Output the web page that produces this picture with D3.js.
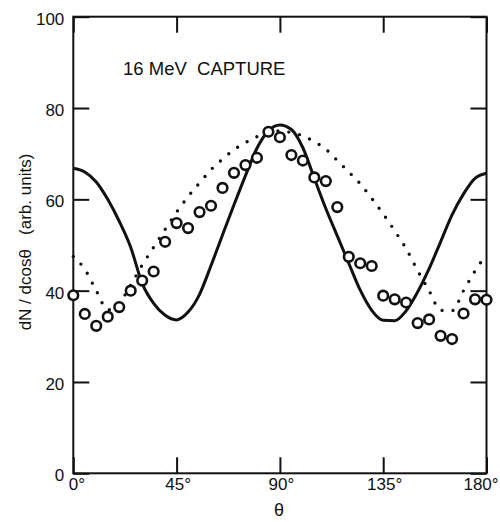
<!DOCTYPE html>
<html>
<head>
<meta charset="utf-8">
<script src="https://cdn.jsdelivr.net/npm/d3@7"></script>
<style>
  body { margin: 0; background: #fff; }
  text { font-family: "Liberation Sans", Arial, Helvetica, sans-serif; fill: #111; }
</style>
</head>
<body>
<svg width="500" height="522"></svg>
<script>
// angles in degrees, 5 degree steps
const angles = d3.range(0, 181, 5);

// measured points (open circles)
const measured = [39.0, 34.9, 32.3, 34.3, 36.4, 40.0, 42.2, 44.2, 50.7, 54.8,
  53.7, 57.2, 58.6, 62.5, 65.8, 67.5, 69.1, 74.8, 73.6, 69.7,
  68.5, 64.8, 64.0, 58.3, 47.4, 46.0, 45.4, 38.9, 38.1, 37.4,
  32.9, 33.7, 30.1, 29.4, 35.0, 38.1, 38.0];

// solid curve
const solidCurve = [66.8, 66.0, 63.8, 60.0, 55.2, 49.5, 41.6, 37.2, 34.6, 33.6,
  35.3, 39.2, 45.5, 52.2, 58.8, 65.2, 71.2, 75.0, 76.3, 75.3,
  71.3, 64.6, 58.0, 52.0, 46.0, 40.1, 35.7, 33.5, 33.4, 35.6,
  39.7, 44.8, 50.7, 56.6, 61.2, 64.6, 65.7];

// dotted curve
const dottedCurve = [47.5, 44.7, 40.0, 35.8, 37.3, 41.2, 45.6, 49.5, 53.4, 57.2,
  60.6, 63.6, 66.5, 68.8, 70.9, 72.4, 73.7, 74.7, 75.0, 74.6,
  73.9, 72.6, 71.0, 68.5, 66.0, 63.4, 60.2, 56.8, 53.1, 49.2,
  44.4, 40.0, 35.7, 35.6, 40.0, 44.3, 48.0];

const xTicks = [0, 45, 90, 135, 180];
const yTicks = [0, 20, 40, 60, 80, 100];

const svg = d3.select('svg');
const width  = +svg.attr('width');
const height = +svg.attr('height');
const margin = { top: 16.7, bottom: 48.7, left: 73.3, right: 13.5 };
const innerWidth = width - margin.left - margin.right;
const innerHeight = height - margin.top - margin.bottom;

const g = svg.append('g')
  .attr('transform', `translate(${margin.left},${margin.top})`);

const xScale = d3.scaleLinear().domain([0, 180]).range([0, innerWidth]);
const yScale = d3.scaleLinear().domain([0, 100]).range([innerHeight, 0]);

const tickLen = 16;

// axes: ticks point inward, labels outside (left & bottom only)
const styleAxis = sel => {
  sel.select('.domain').remove();
  sel.selectAll('.tick line').attr('stroke', '#111').attr('stroke-width', 2);
  sel.selectAll('.tick text').style('font-size', '17px').attr('fill', '#111');
};

const xAxisG = g.append('g')
  .attr('transform', `translate(0,${innerHeight})`)
  .call(d3.axisBottom(xScale).tickValues(xTicks).tickSize(-tickLen).tickPadding(5)
    .tickFormat(d => d + '°'))
  .call(styleAxis);
// nudge end labels the way the original sits
xAxisG.selectAll('.tick text')
  .attr('dx', d => d === 0 ? 3 : d === 180 ? -6 : 1);

g.append('g')
  .call(d3.axisTop(xScale).tickValues(xTicks).tickSize(-tickLen))
  .call(styleAxis)
  .selectAll('.tick text').remove();

g.append('g')
  .call(d3.axisLeft(yScale).tickValues(yTicks).tickSize(-tickLen).tickPadding(9))
  .call(styleAxis)
  .selectAll('.tick text').attr('dy', '0.45em');

g.append('g')
  .attr('transform', `translate(${innerWidth},0)`)
  .call(d3.axisRight(yScale).tickValues(yTicks).tickSize(-tickLen))
  .call(styleAxis)
  .selectAll('.tick text').remove();

// frame
g.append('rect')
  .attr('width', innerWidth)
  .attr('height', innerHeight)
  .attr('fill', 'none')
  .attr('stroke', '#111')
  .attr('stroke-width', 2);

// curves
const line = d3.line()
  .x((d, i) => xScale(angles[i]))
  .y(d => yScale(d))
  .curve(d3.curveMonotoneX);

g.append('path')
  .datum(dottedCurve)
  .attr('d', line)
  .attr('fill', 'none')
  .attr('stroke', '#111')
  .attr('stroke-width', 3.4)
  .attr('stroke-linecap', 'round')
  .attr('stroke-dasharray', '0 11');

g.append('path')
  .datum(solidCurve)
  .attr('d', line)
  .attr('fill', 'none')
  .attr('stroke', '#111')
  .attr('stroke-width', 3);

// data points
g.selectAll('circle')
  .data(measured).enter()
  .append('circle')
    .attr('cx', (d, i) => xScale(angles[i]))
    .attr('cy', d => yScale(d))
    .attr('r', 4.8)
    .attr('fill', '#fff')
    .attr('stroke', '#111')
    .attr('stroke-width', 2.6);

// labels
svg.append('text')
  .attr('x', 123)
  .attr('y', 75)
  .style('font-size', '18.5px')
  .style('white-space', 'pre')
  .text('16 MeV  CAPTURE');

svg.append('text')
  .attr('text-anchor', 'middle')
  .attr('transform', 'rotate(-90)')
  .attr('x', -242)
  .attr('y', 31)
  .style('font-size', '17px')
  .style('white-space', 'pre')
  .text('dN / dcosθ   (arb. units)');

svg.append('text')
  .attr('text-anchor', 'middle')
  .attr('x', 279)
  .attr('y', 516)
  .style('font-size', '18px')
  .text('θ');
</script>
</body>
</html>
